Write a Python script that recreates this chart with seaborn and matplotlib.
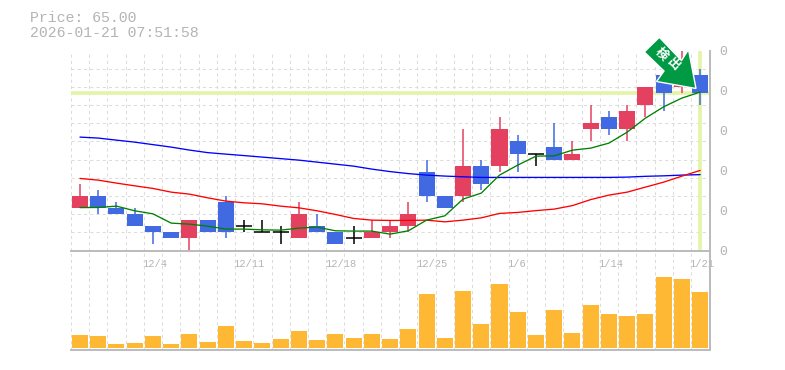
import numpy as np
import pandas as pd
import seaborn as sns
import matplotlib.pyplot as plt
from matplotlib.patches import Polygon
from matplotlib.transforms import ScaledTranslation

sns.set_theme(style='white')
plt.rcParams['font.family'] = ['Liberation Mono', 'Noto Sans CJK JP']

#candles, oldest first
opens = [46,48,46,45,43,42,41,44,47,43,42,42,41,43,42,41,41,42,43,52,48,48,53,53,57,55,56,54,59,61,59,63,68,66,68]
highs = [50,49,47,46,43,42,44,44,48,44,44,43,47,45,42,43,44,44,47,54,48,59,54,61,58,55,60,57,63,62,63,66,69,72,69]
lows = [46,45,45,43,40,41,39,42,41,42,42,40,41,42,40,40,41,41,42,47,46,47,49,52,52,53,54,54,57,58,57,61,62,65,63]
closes = [48,46,45,43,42,41,44,42,42,43,42,42,45,42,40,41,42,43,45,48,46,53,50,59,55,55,54,55,60,59,62,66,65,68,65]
volumes = [13,12,4,5,12,4,14,6,22,7,5,9,17,8,14,10,14,9,19,54,10,57,24,64,36,13,38,15,43,34,32,34,71,69,56]

ma_short = [46.08,46.10,46.32,45.55,45.05,43.52,43.35,43.02,42.53,42.53,42.41,42.36,42.69,42.86,42.25,42.20,42.20,41.70,
            42.25,44.01,44.72,47.48,48.47,51.44,53.09,54.57,54.62,55.56,55.89,56.72,58.53,60.84,62.71,64.15,65.14]
ma_mid = [50.89,50.61,50.12,49.67,49.24,48.63,48.30,47.69,47.15,46.87,46.70,46.32,46.04,45.55,44.95,44.29,44.01,43.96,
          43.96,44.01,43.73,44.01,44.39,45.12,45.28,45.58,45.83,46.41,47.40,48.14,48.63,49.46,50.28,51.27,52.21]
ma_long = [57.71,57.55,57.21,56.88,56.47,56.06,55.57,55.15,54.90,54.66,54.41,54.16,53.91,53.58,53.25,52.92,52.43,52.02,
           51.69,51.44,51.28,51.16,51.06,51.06,51.06,51.06,51.06,51.06,51.06,51.06,51.11,51.24,51.32,51.44,51.52]

date_pos = [4,9,14,19,24,29,34]
date_labels = ['12/4','12/11','12/18','12/25','1/6','1/14','1/21']
last_price = 65.00
price_min, price_max = 39, 72

df = pd.DataFrame({'i': range(len(opens)), 'open': opens, 'high': highs, 'low': lows, 'close': closes,
                   'vol': volumes, 'short': ma_short, 'mid': ma_mid, 'long': ma_long})

RED = '#e44060'
BLUE = '#4169e1'
GRID = '#dcdcdc'
TXT = '#b4b4b4'

W, H = 785, 370
fig = plt.figure(figsize=(W/100, H/100), dpi=100)
ax = fig.add_axes([70.5/W, 1-250.5/H, 639.5/W, 200/H])
axv = fig.add_axes([70.5/W, 1-349.5/H, 639.5/W, 99/H])
axv.patch.set_alpha(0)

for a in (ax, axv):
    a.set_xticks(np.arange(-0.5, 35), minor=True)
    a.grid(True, which='minor', axis='x', color=GRID, ls=(0, (3, 3)), lw=0.75)
    a.set_axisbelow(True)
    a.tick_params(which='both', length=0)
    for s in ['top', 'left']:
        a.spines[s].set_visible(False)
    for s in ['bottom', 'right']:
        a.spines[s].set_color('#bbbbbb')
        a.spines[s].set_linewidth(1.4)

ax.set_yticks(np.arange(price_min, price_max+0.1, 3), minor=True)
ax.grid(True, which='minor', axis='y', color=GRID, ls=(0, (3, 3)), lw=0.75)
ax.set_yticks(np.linspace(price_min, price_max, 6))
ax.set_yticklabels(['0']*6, color=TXT, fontsize=9.5)
ax.yaxis.tick_right()
ax.tick_params(axis='y', which='major', pad=7)
ax.set_xticks(date_pos)
ax.set_xticklabels(date_labels, color=TXT, fontsize=7.5, ha='left')
ax.tick_params(axis='x', which='major', pad=6)
#labels start a little left of their candle
shift = ScaledTranslation(-10.5/100, 0, fig.dpi_scale_trans)
for lab in ax.get_xticklabels():
    lab.set_transform(lab.get_transform() + shift)

#current price marker lines
ax.axhline(last_price, color='#e2f5a6', lw=2.6, zorder=1)
ax.axvline(34, color='#e2f5a6', lw=2.6, zorder=1)

#candles
up = df[df.close > df.open]
down = df[df.close < df.open]
flat = df[df.close == df.open]
for part, col in ((up, RED), (down, BLUE), (flat, 'black')):
    ax.vlines(part.i, part.low, part.high, color=col, lw=1.1, zorder=2)
for part, col in ((up, RED), (down, BLUE)):
    ax.bar(part.i, (part.close-part.open).abs(), bottom=part[['open', 'close']].min(axis=1),
           width=0.88, color=col, lw=0, zorder=3)
ax.hlines(flat.open, flat.i-0.44, flat.i+0.44, color='black', lw=1.1, zorder=3)

sns.lineplot(data=df, x='i', y='long', color='#0000ff', lw=0.95, ax=ax, zorder=4)
sns.lineplot(data=df, x='i', y='mid', color='#ff0000', lw=0.95, ax=ax, zorder=4)
sns.lineplot(data=df, x='i', y='short', color='#008000', lw=0.95, ax=ax, zorder=4)
ax.set_xlabel('')
ax.set_ylabel('')
ax.set_xlim(-0.52, 34.54)
ax.set_ylim(price_min, price_max)

#volume panel
sns.barplot(data=df, x='i', y='vol', native_scale=True, color='#ffb833', saturation=1, width=0.88, lw=0, ax=axv, zorder=3)
axv.set_ylim(-1.5, 97)
axv.set_yticks([])
axv.set_xlim(-0.52, 34.54)
axv.set_xticks([])
axv.set_xticks(np.arange(-0.5, 35), minor=True)
axv.set_xlabel('')
axv.set_ylabel('')

#arrow sign over the last candles, drawn in pixel space
def px(x, y):
    return (x/W, 1-y/H)

pts = [(659.3, 37.3), (681.5, 60.5), (688.5, 49.5), (696, 88.5), (656.5, 81.5), (664, 71), (644.3, 52)]
fig.add_artist(Polygon([px(*p) for p in pts], closed=True, transform=fig.transFigure,
                       facecolor='#009944', edgecolor='white', lw=1.0, zorder=10))
fig.text(*px(661.5, 54), '検', color='white', fontsize=9, rotation=-45, ha='center', va='center', zorder=11, weight='bold')
fig.text(*px(672.5, 65), '出', color='white', fontsize=9, rotation=-45, ha='center', va='center', zorder=11, weight='bold')

fig.text(*px(30, 18), 'Price: 65.00', color=TXT, fontsize=10.7, va='center', ha='left')
fig.text(*px(30, 33), '2026-01-21 07:51:58', color=TXT, fontsize=10.7, va='center', ha='left')

fig.savefig('out.png', dpi=100)
